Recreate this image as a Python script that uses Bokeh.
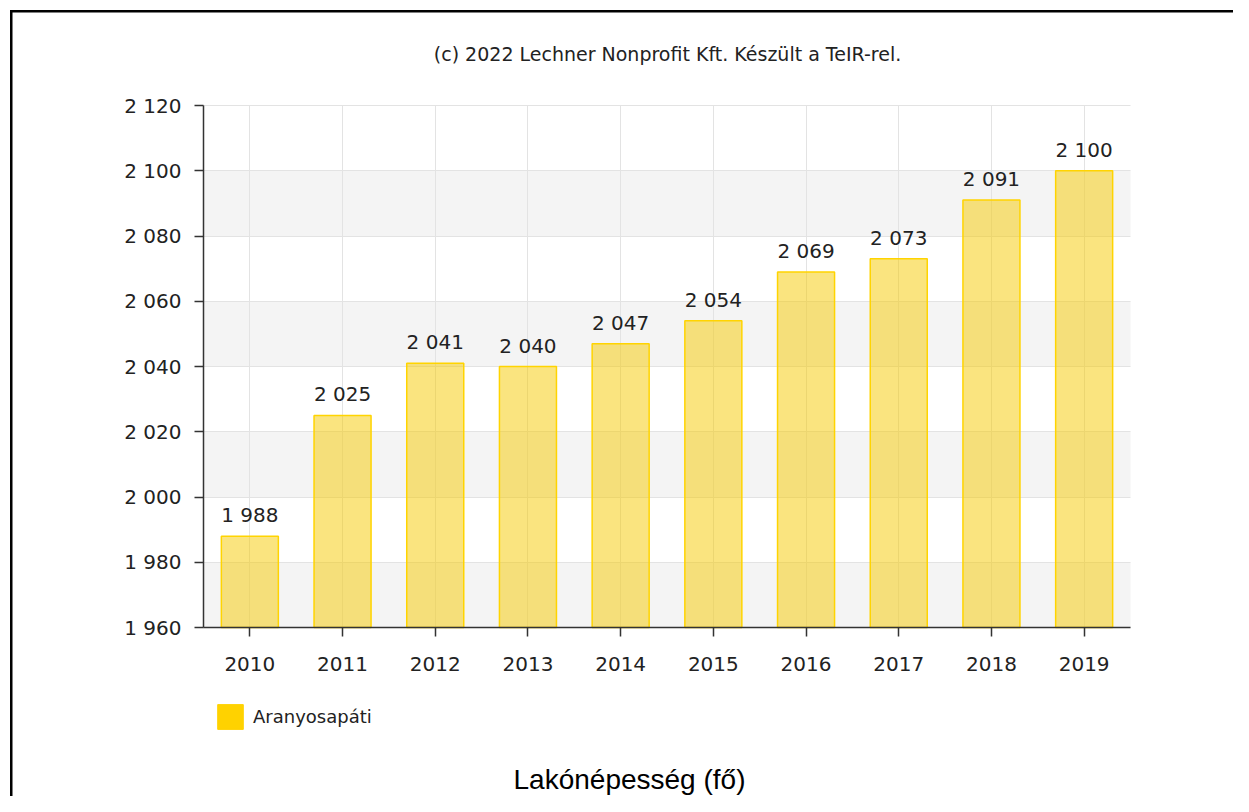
from bokeh.plotting import figure
from bokeh.models import (FixedTicker, Label, Legend, LegendItem, ColumnDataSource,
                          BoxAnnotation)
from bokeh.embed import file_html
from bokeh.resources import INLINE
from bokeh.core.properties import value

# ---- data ----
years = ["2010", "2011", "2012", "2013", "2014", "2015", "2016", "2017", "2018", "2019"]
population = [1988, 2025, 2041, 2040, 2047, 2054, 2069, 2073, 2091, 2100]
y_ticks = [1960, 1980, 2000, 2020, 2040, 2060, 2080, 2100, 2120]
series_name = "Aranyosapáti"
credit = "(c) 2022 Lechner Nonprofit Kft. Készült a TeIR-rel."
chart_title = "Lakónépesség (fő)"


def hu(n):
    return f"{n:,}".replace(",", " ")


xs = list(range(len(years)))
src = ColumnDataSource(dict(x=xs, top=population, lbl=[hu(v) for v in population]))

FONT = "DejaVu Sans"
TXT = "#222222"

# layout: the plot frame fills the whole canvas; the chart area is placed
# inside it by choosing the ranges (chart area = px 203..1130 x 105..627)
W, H = 1233, 796
CL, CR, CT, CB = 203, 1130, 105, 627
x0, x1 = -0.5, len(years) - 0.5
y0, y1 = y_ticks[0], y_ticks[-1]
kx = (x1 - x0) / (CR - CL)
ky = (y1 - y0) / (CB - CT)

p = figure(width=W, height=H, output_backend="svg", toolbar_location=None,
           x_range=(x0 - CL * kx, x1 + (W - CR) * kx),
           y_range=(y0 - (H - CB) * ky, y1 + CT * ky),
           min_border=0, outline_line_color=None,
           background_fill_color="white", border_fill_color="white")

# alternating bands (every other tick interval)
bands = [BoxAnnotation(left=x0, right=x1, bottom=b, top=t, fill_color="#f4f4f4",
                       fill_alpha=1.0, line_color=None, level="underlay")
         for b, t in zip(y_ticks[0:-1:2], y_ticks[1::2])]
for b in bands:
    p.add_layout(b)

# grids limited to the chart area
p.xgrid.ticker = FixedTicker(ticks=xs)
p.ygrid.ticker = FixedTicker(ticks=y_ticks)
p.xgrid.bounds = (x0, x1)
p.ygrid.bounds = (y0, y1)
p.xgrid.cross_bounds = (y0, y1)
p.ygrid.cross_bounds = (x0, x1)
for g in (p.xgrid, p.ygrid):
    g.grid_line_color = "#e3e3e3"
    g.grid_line_width = 1
xg, yg = p.xgrid[0], p.ygrid[0]
p.center = bands + [yg, xg] + [c for c in p.center
                               if c is not xg and c is not yg and c not in bands]

# bars
bars = p.vbar(x="x", top="top", bottom=y0, width=0.615, source=src,
              fill_color="#f5c900", fill_alpha=0.5, line_color="#ffd400", line_width=1.5)
# solid swatch for the legend (hidden duplicate of the series)
sw = p.vbar(x="x", top="top", bottom=y0, width=0.615, source=src,
            fill_color="#ffd200", line_color="#ffd200", visible=False)

# value labels
p.text(x="x", y="top", text="lbl", source=src, text_align="center",
       text_baseline="alphabetic", y_offset=-21, text_font=value(FONT),
       text_font_size="20px", text_color=TXT)

# axes pinned to the chart area
p.xaxis.fixed_location = y0
p.yaxis.fixed_location = x0
p.xaxis.bounds = (x0, x1)
p.yaxis.bounds = (y0, y1)
p.xaxis.ticker = FixedTicker(ticks=xs)
p.xaxis.major_label_overrides = {i: y for i, y in enumerate(years)}
p.yaxis.ticker = FixedTicker(ticks=y_ticks)
p.yaxis.major_label_overrides = {t: hu(t) for t in y_ticks}
for ax in (p.xaxis, p.yaxis):
    ax.axis_line_color = "#333333"
    ax.axis_line_width = 1.5
    ax.major_tick_line_color = "#333333"
    ax.major_tick_line_width = 1.5
    ax.major_tick_out = 9
    ax.major_tick_in = 0
    ax.minor_tick_line_color = None
    ax.major_label_text_font = FONT
    ax.major_label_text_font_size = "20px"
    ax.major_label_text_color = TXT
p.xaxis.major_label_standoff = 20
p.yaxis.major_label_standoff = 13

# legend below the x axis
legend = Legend(items=[LegendItem(label=series_name, renderers=[sw])],
                location=(214, H - 701 - 31), orientation="horizontal",
                glyph_width=32, glyph_height=31, label_standoff=7,
                padding=0, margin=0, spacing=0,
                border_line_alpha=0, background_fill_alpha=0,
                label_text_font=FONT, label_text_font_size="18px",
                label_text_color=TXT)
p.add_layout(legend, "center")

# credit line (top) and caption (bottom)
p.add_layout(Label(x=667, y=53, x_units="canvas", y_units="canvas",
                   text=credit, text_align="center", text_baseline="alphabetic",
                   text_font=FONT, text_font_size="19px", text_color=TXT))
p.add_layout(Label(x=629, y=779, x_units="canvas", y_units="canvas",
                   text=chart_title, text_align="center", text_baseline="alphabetic",
                   text_font="Liberation Sans", text_font_size="28px",
                   text_color="#000000"))

# outer box: only its top and left edges are inside the picture
p.add_layout(BoxAnnotation(left=9.5, right=W, top=9.5, bottom=12,
                           left_units="canvas", right_units="canvas",
                           top_units="canvas", bottom_units="canvas",
                           fill_color="black", fill_alpha=1.0, line_color=None,
                           level="overlay"))
p.add_layout(BoxAnnotation(left=9.5, right=12, top=9.5, bottom=H,
                           left_units="canvas", right_units="canvas",
                           top_units="canvas", bottom_units="canvas",
                           fill_color="black", fill_alpha=1.0, line_color=None,
                           level="overlay"))

open("out.html", "w").write(file_html(p, INLINE))
